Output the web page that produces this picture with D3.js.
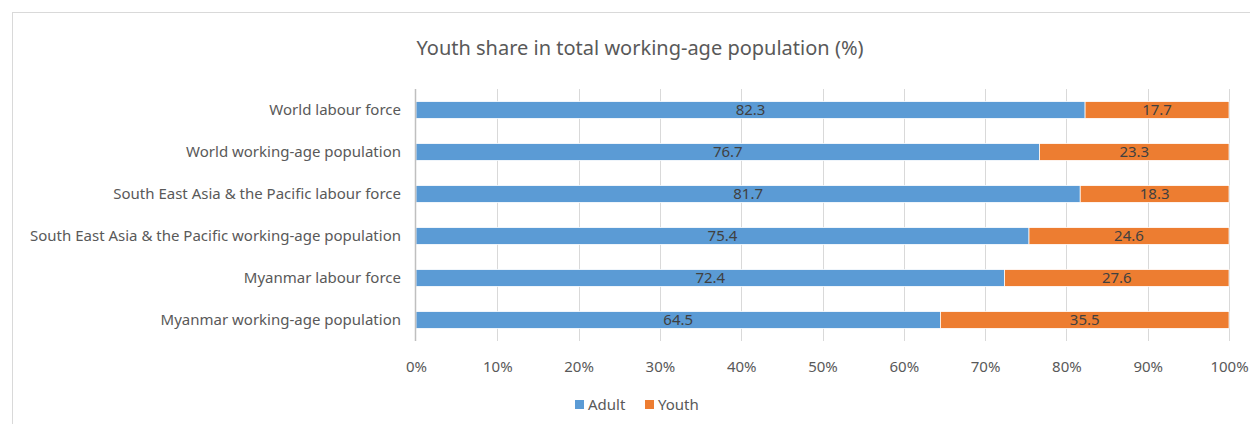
<!DOCTYPE html>
<meta charset="UTF-8">
<style>
body { margin: 0; background: #fff; font-family: "Noto Sans", "Open Sans", sans-serif; }
svg text { font-family: "Noto Sans", "Open Sans", sans-serif; }
.grid line { stroke: #d9d9d9; stroke-width: 1px; }
</style>
<body>
<script src="https://d3js.org/d3.v7.min.js"></script>
<script>
// data
var categories = [
  "World labour force",
  "World working-age population",
  "South East Asia & the Pacific labour force",
  "South East Asia & the Pacific working-age population",
  "Myanmar labour force",
  "Myanmar working-age population"
];
var adult = [82.3, 76.7, 81.7, 75.4, 72.4, 64.5];
var youth = [17.7, 23.3, 18.3, 24.6, 27.6, 35.5];
var seriesNames = ["Adult", "Youth"];
var colors = ["#5B9BD5", "#ED7D31"];
var ticks = [0, 10, 20, 30, 40, 50, 60, 70, 80, 90, 100];

var W = 1250, H = 424;
var plotLeft = 416, plotRight = 1229, plotTop = 89, plotBottom = 341;

var svg = d3.select("body").append("svg")
    .attr("width", W).attr("height", H);

// outer chart frame
svg.append("rect")
    .attr("x", 12.5).attr("y", 12.5)
    .attr("width", W + 20).attr("height", H + 20)
    .attr("fill", "none").attr("stroke", "#d9d9d9");

var x = d3.scaleLinear().domain([0, 100]).range([plotLeft, plotRight]);
var y = d3.scaleBand().domain(categories).range([plotTop, plotBottom]).paddingInner(0.6).paddingOuter(0.3);

// gridlines
svg.append("g").attr("class", "grid")
  .selectAll("line").data(ticks.slice(1)).enter().append("line")
    .attr("x1", function(d) { return Math.round(x(d)) + 0.5; })
    .attr("x2", function(d) { return Math.round(x(d)) + 0.5; })
    .attr("y1", plotTop).attr("y2", plotBottom);

// title
svg.append("text")
    .attr("x", 640).attr("y", 55)
    .attr("text-anchor", "middle")
    .attr("fill", "#595959")
    .style("font-size", "20px")
    .text("Youth share in total working-age population (%)");

// stack the two series
var rows = categories.map(function(c, i) { return {cat: c, Adult: adult[i], Youth: youth[i]}; });
var stacked = d3.stack().keys(seriesNames)(rows);

var layers = svg.selectAll("g.layer").data(stacked).enter().append("g")
    .attr("class", "layer")
    .attr("fill", function(d, i) { return colors[i]; });

layers.selectAll("rect").data(function(d) { return d; }).enter().append("rect")
    .attr("x", function(d) { return x(d[0]); })
    .attr("width", function(d) { return x(d[1]) - x(d[0]); })
    .attr("y", function(d) { return y(d.data.cat); })
    .attr("height", y.bandwidth())
    .attr("stroke", "#fff")
    .attr("stroke-width", 0.75);

// data labels
layers.selectAll("text").data(function(d) { return d.map(function(v) { v.key = d.key; return v; }); })
  .enter().append("text")
    .attr("x", function(d) { return (x(d[0]) + x(d[1])) / 2; })
    .attr("y", function(d) { return y(d.data.cat) + y.bandwidth() / 2; })
    .attr("dy", "0.36em")
    .attr("text-anchor", "middle")
    .attr("fill", "#404040")
    .style("font-size", "15px")
    .text(function(d) { return d.data[d.key].toFixed(1); });

// 0% axis line
svg.append("line")
    .attr("x1", x(0) - 0.5).attr("x2", x(0) - 0.5)
    .attr("y1", plotTop).attr("y2", plotBottom)
    .attr("stroke", "#bfbfbf").attr("stroke-width", 1.5);

// category axis
var yAxis = svg.append("g")
    .attr("transform", "translate(" + plotLeft + ",0)")
    .call(d3.axisLeft(y).tickSize(0).tickPadding(15));
yAxis.select(".domain").remove();
yAxis.selectAll("text").attr("fill", "#595959").style("font-size", "15px");

// value axis
var xAxis = svg.append("g")
    .attr("transform", "translate(0," + plotBottom + ")")
    .call(d3.axisBottom(x).tickValues(ticks).tickSize(0).tickPadding(20)
      .tickFormat(function(d) { return d + "%"; }));
xAxis.select(".domain").remove();
xAxis.selectAll("text").attr("fill", "#595959").style("font-size", "15px");

// legend
var legend = svg.append("g").attr("transform", "translate(575,405)");
var legX = [0, 70];
seriesNames.forEach(function(name, i) {
  var g = legend.append("g").attr("transform", "translate(" + legX[i] + ",0)");
  g.append("rect").attr("x", 0).attr("y", -5).attr("width", 9).attr("height", 9).attr("fill", colors[i]);
  g.append("text").attr("x", 13).attr("y", 0).attr("dy", "0.35em")
    .attr("fill", "#595959").style("font-size", "15px").text(name);
});
</script>
</body>
